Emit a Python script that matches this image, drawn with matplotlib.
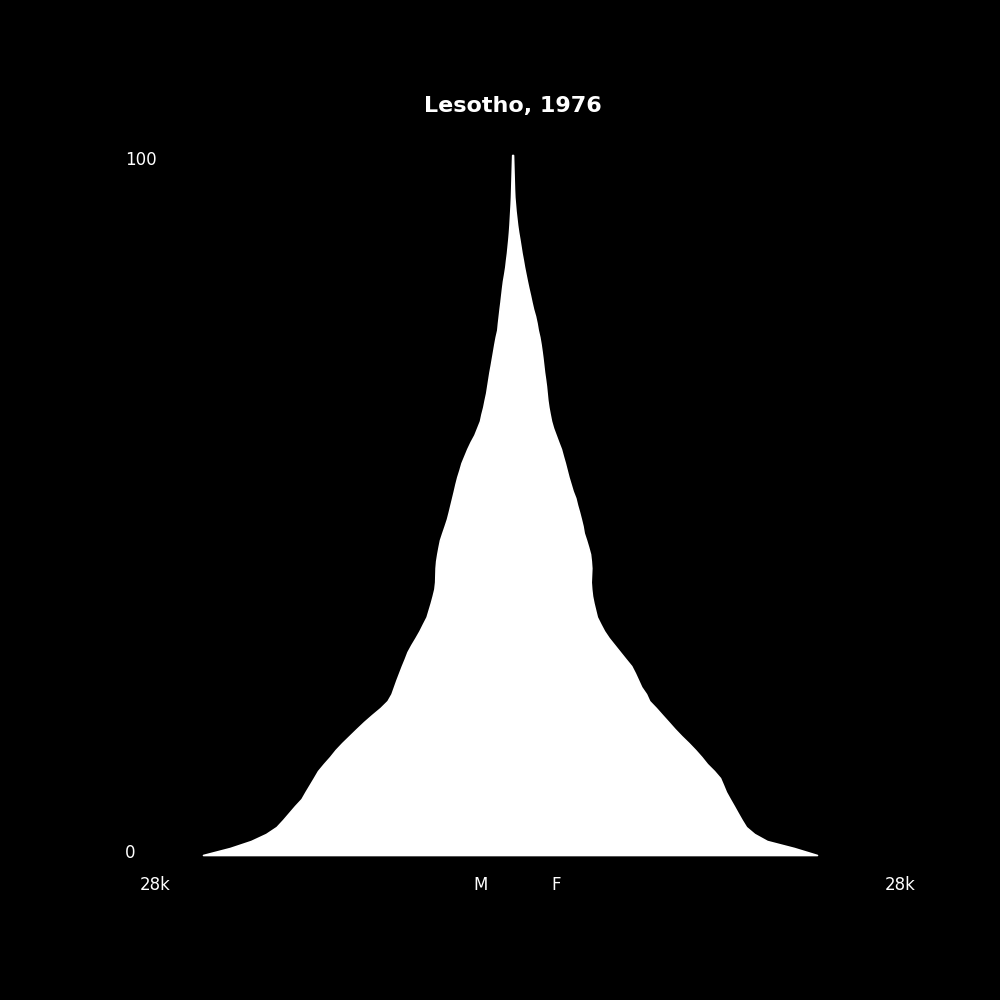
import matplotlib.pyplot as plt
import numpy as np

# single-year ages 0..100, population
ages = np.arange(0, 101)
male = [
    27955, 25516, 23619, 22264, 21316, 20729, 20187, 19645, 19058, 18697,
    18317, 17938, 17568, 17044, 16484, 15978, 15382, 14731, 14081, 13413,
    12690, 11931, 11290, 10929, 10703, 10477, 10234, 9990, 9728, 9484,
    9140, 8761, 8400, 8084, 7758, 7569, 7379, 7208, 7054, 6982,
    6964, 6946, 6892, 6792, 6675, 6548, 6341, 6124, 5916, 5753,
    5600, 5446, 5293, 5148, 4986, 4787, 4606, 4344, 4083, 3784,
    3441, 3188, 2935, 2800, 2637, 2511, 2375, 2276, 2177, 2077,
    1960, 1852, 1743, 1635, 1517, 1373, 1310, 1237, 1165, 1084,
    1012, 939, 858, 750, 650, 578, 497, 434, 370, 316,
    271, 235, 199, 163, 135, 117, 99, 81, 63, 45, 27,
]
female = [
    27502, 25425, 22986, 21839, 21090, 20701, 20340, 19988, 19626, 19274,
    19012, 18741, 18199, 17567, 17061, 16502, 15896, 15246, 14641, 14081,
    13512, 12952, 12347, 12058, 11624, 11335, 11046, 10721, 10206, 9700,
    9194, 8689, 8264, 7930, 7614, 7460, 7307, 7180, 7108, 7063,
    7090, 7117, 7072, 7000, 6828, 6639, 6431, 6322, 6169, 6006,
    5826, 5672, 5428, 5239, 5049, 4886, 4724, 4543, 4372, 4128,
    3893, 3658, 3477, 3351, 3234, 3143, 3080, 3017, 2935, 2845,
    2773, 2701, 2619, 2529, 2421, 2276, 2168, 2032, 1852, 1707,
    1572, 1427, 1292, 1165, 1039, 930, 813, 714, 614, 506,
    415, 343, 271, 217, 163, 135, 117, 99, 81, 63, 45,
]
country = "Lesotho"
year = 1976
max_label = "28k"

male = np.array(male)
female = np.array(female)
xmax = 1.25 * 28000

fig, ax = plt.subplots(figsize=(10, 10), dpi=100)
fig.patch.set_facecolor("black")
ax.set_facecolor("black")

ax.fill_betweenx(ages, -male, female, facecolor="white", edgecolor="white", linewidth=1.2)

ax.set_xlim(-xmax, xmax)
ax.set_ylim(-5, 105)
ax.axis("off")

ax.set_title(f"{country}, {year}", color="white", fontsize=16, fontweight="bold")

ax.text(-xmax, 99.3, "100", color="white", fontsize=12, ha="left", va="center")
ax.text(-xmax, 0.3, "0", color="white", fontsize=12, ha="left", va="center")
ax.text(-32300, -4.3, max_label, color="white", fontsize=12, ha="center", va="center")
ax.text(xmax, -4.3, max_label, color="white", fontsize=12, ha="center", va="center")
ax.text(-2850, -4.3, "M", color="white", fontsize=12, ha="center", va="center")
ax.text(3930, -4.3, "F", color="white", fontsize=12, ha="center", va="center")

fig.savefig("out.png", facecolor="black")
